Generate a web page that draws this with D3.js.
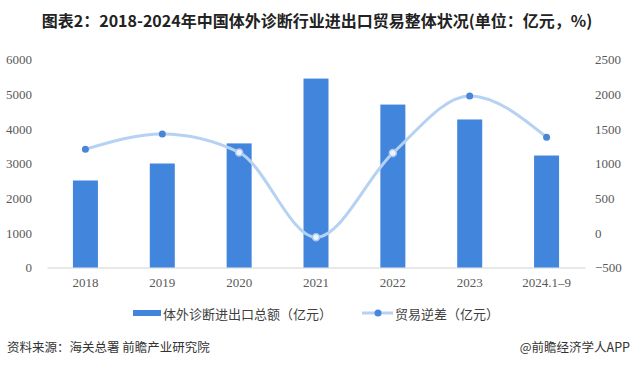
<!DOCTYPE html>
<html><head><meta charset="utf-8">
<script src="https://cdn.jsdelivr.net/npm/d3@7"></script>
<style>
html,body{margin:0;padding:0;background:#fff;}
svg{display:block;}
</style></head>
<body>
<script>
const categories = ["2018","2019","2020","2021","2022","2023","2024.1–9"];
const totalValues = [2510, 3000, 3580, 5450, 4700, 4270, 3230];
const deficitValues = [1205, 1425, 1160, -65, 1150, 1975, 1380];
const leftTicks = [0,1000,2000,3000,4000,5000,6000];
const rightTicks = [-500,0,500,1000,1500,2000,2500];
const hollowMarkers = ["2020","2021","2022"];
const title = "图表2：2018-2024年中国体外诊断行业进出口贸易整体状况(单位：亿元，%)";
const legendBar = "体外诊断进出口总额（亿元）";
const legendLine = "贸易逆差（亿元）";
const sourceText = "资料来源：海关总署 前瞻产业研究院";
const creditText = "@前瞻经济学人APP";

const W = 633, H = 365;
const svg = d3.select("body").append("svg").attr("width", W).attr("height", H);
const serif = "'Liberation Serif','DejaVu Serif',serif";
const sans = "'Noto Sans CJK SC','Noto Sans',sans-serif";

const x = d3.scaleBand().domain(categories).range([47, 585]).paddingInner(0).paddingOuter(0);
const yL = d3.scaleLinear().domain([0, 6000]).range([267.5, 59.5]);
const yR = d3.scaleLinear().domain([-500, 2500]).range([267.5, 59.5]);

// title
svg.append("text").attr("x", 317).attr("y", 20).attr("text-anchor","middle")
  .attr("dominant-baseline","central")
  .attr("font-family", sans).attr("font-weight","bold").attr("font-size", 16)
  .attr("fill","#222").text(title);

// axes
const axL = svg.append("g").attr("transform","translate(47,0)")
  .call(d3.axisLeft(yL).tickValues(leftTicks).tickSize(0).tickPadding(15).tickFormat(d3.format("d")));
const axR = svg.append("g").attr("transform","translate(585,0)")
  .call(d3.axisRight(yR).tickValues(rightTicks).tickSize(0).tickPadding(10).tickFormat(d3.format("d")));
const axB = svg.append("g").attr("transform","translate(0,267.5)")
  .call(d3.axisBottom(x).tickSize(0).tickPadding(10));
[axL, axR, axB].forEach(g => {
  g.selectAll("text").attr("font-family", serif).attr("font-size", 13).attr("fill","#595959");
});
axL.select(".domain").remove();
axR.select(".domain").remove();
axB.select(".domain").attr("stroke","#d3d3d3");

// bars
const bw = 25;
svg.append("g").selectAll("rect").data(categories).join("rect")
  .attr("x", (d) => x(d) + x.bandwidth()/2 - bw/2)
  .attr("y", (d,i) => yL(totalValues[i]))
  .attr("width", bw)
  .attr("height", (d,i) => yL(0) - yL(totalValues[i]))
  .attr("fill", "#4285dc");

// line
const pts = categories.map((c,i) => [x(c) + x.bandwidth()/2, yR(deficitValues[i]), c]);
svg.append("path").attr("d", d3.line().curve(d3.curveMonotoneX)(pts.map(p=>[p[0],p[1]])))
  .attr("fill","none").attr("stroke","#b5d1f3").attr("stroke-width",3);
svg.append("g").selectAll("circle").data(pts).join("circle")
  .attr("cx", d => d[0]).attr("cy", d => d[1]).attr("r", 3.5)
  .attr("fill", d => hollowMarkers.includes(d[2]) ? "#eef4fc" : "#4a86d8")
  .attr("stroke", d => hollowMarkers.includes(d[2]) ? "#a9c8ef" : "none")
  .attr("stroke-width", 1.5);

// legend
const lg = svg.append("g");
lg.append("rect").attr("x",133).attr("y",310).attr("width",28).attr("height",6).attr("fill","#4285dc");
lg.append("text").attr("x",163).attr("y",313).attr("dominant-baseline","central")
  .attr("font-family",sans).attr("font-size",13).attr("fill","#404040").text(legendBar);
lg.append("line").attr("x1",362).attr("x2",393).attr("y1",313).attr("y2",313)
  .attr("stroke","#b5d1f3").attr("stroke-width",3);
lg.append("circle").attr("cx",378).attr("cy",313).attr("r",3.5).attr("fill","#4a86d8");
lg.append("text").attr("x",395).attr("y",313).attr("dominant-baseline","central")
  .attr("font-family",sans).attr("font-size",13).attr("fill","#404040").text(legendLine);

// footer
svg.append("text").attr("x",7).attr("y",346).attr("dominant-baseline","central")
  .attr("font-family",sans).attr("font-size",12.5).attr("fill","#333").text(sourceText);
svg.append("text").attr("x",630).attr("y",346).attr("dominant-baseline","central").attr("text-anchor","end")
  .attr("font-family",sans).attr("font-size",12.5).attr("fill","#333").text(creditText);
</script>
</body></html>
